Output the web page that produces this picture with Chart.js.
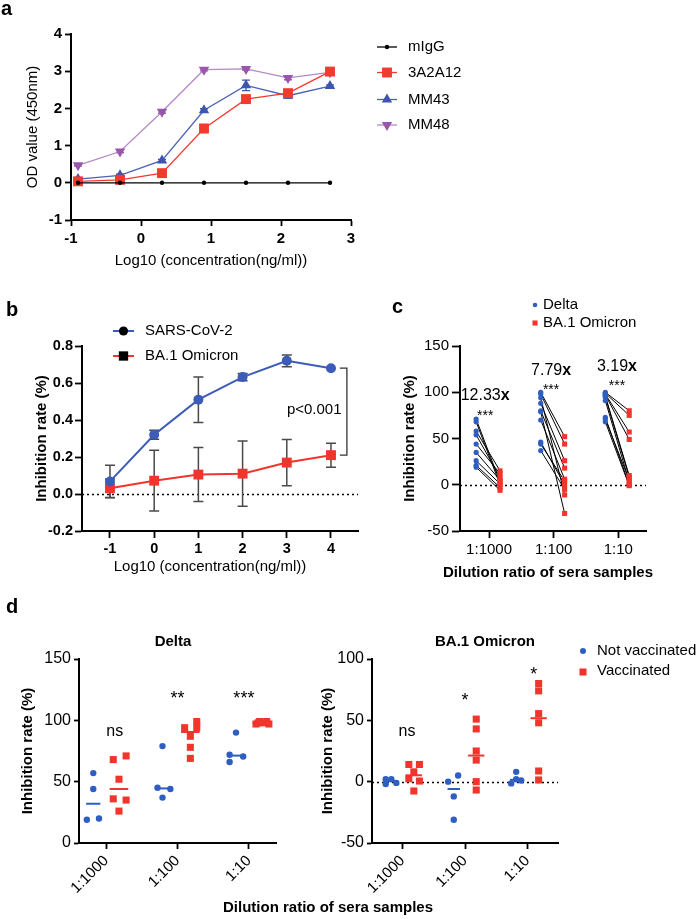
<!DOCTYPE html>
<html>
<head>
<meta charset="utf-8">
<title>Antibody binding and serum inhibition</title>
<script src="https://cdn.jsdelivr.net/npm/chart.js@4.4.1/dist/chart.umd.min.js"></script>
<style>
  html, body { margin: 0; padding: 0; background: #fff; }
  body { position: relative; width: 699px; height: 919px; overflow: hidden; }
  canvas { position: absolute; left: 0; top: 0; }
</style>
</head>
<body>
<canvas id="chartA" width="699" height="919"></canvas>
<canvas id="chartB" width="699" height="919"></canvas>
<canvas id="chartC" width="699" height="919"></canvas>
<canvas id="chartD1" width="699" height="919"></canvas>
<canvas id="chartD2" width="699" height="919"></canvas>
<script>
// ---------- panel a : ELISA binding ----------
const concA = [-0.9, -0.3, 0.3, 0.9, 1.5, 2.1, 2.7];
const seriesA = ['mIgG', '3A2A12', 'MM43', 'MM48'];
const odMIgG = [0, 0, 0, 0, 0, 0, 0];
const od3A2A12 = [0.04, 0.08, 0.26, 1.46, 2.25, 2.41, 2.99];
const od3A2A12Err = [0.02, 0.03, 0.04, 0.11, 0.05, 0.05, 0.09];
const odMM43 = [0.1, 0.2, 0.6, 1.95, 2.62, 2.34, 2.6];
const odMM43Err = [0.02, 0.03, 0.03, 0.04, 0.14, 0.06, 0.03];
const odMM48 = [0.47, 0.84, 1.91, 3.04, 3.06, 2.82, 2.97];
const odMM48Err = [0.02, 0.03, 0.04, 0.03, 0.03, 0.05, 0.04];
const xTicksA = [-1, 0, 1, 2, 3];
const yTicksA = [-1, 0, 1, 2, 3, 4];

// ---------- panel b : pseudovirus inhibition ----------
const concB = [-1, 0, 1, 2, 3, 4];
const seriesB = ['SARS-CoV-2', 'BA.1 Omicron'];
const inhSars = [0.068, 0.32, 0.51, 0.632, 0.72, 0.68];
const inhSarsErr = [0.088, 0.024, 0.123, 0.02, 0.032, 0];
const inhOmi = [0.031, 0.072, 0.105, 0.11, 0.17, 0.21];
const inhOmiErr = [0.05, 0.164, 0.146, 0.176, 0.125, 0.065];
const xTicksB = [-1, 0, 1, 2, 3, 4];
const yTicksB = [-0.2, 0, 0.2, 0.4, 0.6, 0.8];
const pTextB = 'p<0.001';

// ---------- panel c : paired sera ----------
const dilutions = ['1:1000', '1:100', '1:10'];
const seriesC = ['Delta', 'BA.1 Omicron'];
const cDelta = [
  [71, 68, 58, 54, 44, 35, 26, 21, 19],
  [100, 98, 94, 88, 80, 79, 70, 46, 44, 37],
  [100, 99, 98, 97, 96, 95, 91, 73, 71, 68]
];
const cOmicron = [
  [3, 0, 15, 8, 12, 5, 1, -3, -6],
  [52, 44, -11, 26, 18, -31, 6, 0, 4, -5],
  [80, 75, 57, 49, 10, 8, 3, 0, 5, -1]
];
const foldC = ['12.33', '7.79', '3.19'];
const sigC = ['***', '***', '***'];
const yTicksC = [-50, 0, 50, 100, 150];

// ---------- panel d : vaccinated vs not ----------
const seriesD = ['Not vaccinated', 'Vaccinated'];
const deltaNot = [[57, 44, 19, 20], [79, 45, 44, 37], [90, 66, 72, 70.5]];
const deltaVac = [[68, 71, 52, 36, 35, 26], [94, 99, 94, 87, 78, 69], [97, 99, 98, 99, 97, 98]];
const ba1Not = [[2, -2, 2, -1], [0, 5, -12, -31], [-1.4, 8, 2, 1]];
const ba1Vac = [[14, 14, 8, 2.4, 0.5, -7.6], [51, 43, 25, 17.6, 0, -6.8], [80, 74, 55.5, 48, 8.7, 1.4]];
const sigDelta = ['ns', '**', '***'];
const sigBA1 = ['ns', '*', '*'];
const yTicksD1 = [0, 50, 100, 150];
const yTicksD2 = [-50, 0, 50, 100];

// horizontal spread of points inside a group (category units)
const jitDeltaNot = [[0, 0, -0.09, 0.08], [-0.03, -0.1, 0.08, -0.03], [0, -0.09, -0.09, 0.1]];
const jitDeltaVac = [[-0.08, 0.1, 0, -0.08, 0.1, 0], [-0.08, 0.09, 0.09, 0, 0, 0], [-0.08, -0.03, 0.02, 0.07, 0.1, -0.05]];
const jitBa1Not = [[-0.09, -0.09, 0, 0.08], [-0.09, 0.07, 0, 0], [-0.08, 0, 0, 0.08]];
const jitBa1Vac = [[-0.08, 0.09, 0, -0.08, 0.09, 0], [0, 0, 0, 0, 0, 0], [0, 0, 0, 0, 0, 0]];

// ---------- setup ----------
const FONT = "'Liberation Sans', Arial, Helvetica, sans-serif";
Chart.defaults.font.family = FONT;
Chart.defaults.color = '#000';

const RED = '#f2352c';
const BLUE = '#2f5ec2';
const W = 699, H = 919;

const xy = (xs, ys) => xs.map((x, i) => ({ x, y: ys[i] }));

function groupPts(groups, center, jit) {
  const out = [];
  groups.forEach((vals, g) => vals.forEach((v, k) => out.push({ x: g + 1 + center + (jit ? jit[g][k] : 0), y: v })));
  return out;
}

function pairPts(a, b, offA, offB) {
  const out = [];
  a.forEach((vals, g) => vals.forEach((v, k) => {
    out.push({ x: g + 1 + offA, y: v }, { x: g + 1 + offB, y: b[g][k] }, { x: g + 1, y: null });
  }));
  return out;
}

function median(a) {
  const s = [...a].sort((p, q) => p - q), n = s.length;
  return n % 2 ? s[(n - 1) / 2] : (s[n / 2 - 1] + s[n / 2]) / 2;
}

// plot area [left, top, right, bottom] on the page -> layout padding
function pad(area, yW, xH) {
  return { left: area[0] - yW, top: area[1], right: W - area[2], bottom: H - area[3] - xH };
}

function axis(o) {
  return {
    type: 'linear',
    min: o.min, max: o.max,
    afterFit: s => { if (o.horizontal) s.height = o.size; else s.width = o.size; },
    afterBuildTicks: s => { s.ticks = o.ticks.map(v => ({ value: v })); },
    border: { display: true, color: '#000', width: 2 },
    grid: { drawOnChartArea: false, drawTicks: true, tickLength: o.tickLen, tickWidth: 1.8, tickColor: '#000' },
    ticks: {
      autoSkip: false, padding: o.pad, color: '#000',
      font: { size: o.font, weight: o.bold ? 'bold' : 'normal' },
      callback: o.label || (v => String(v)),
      maxRotation: o.rot || 0, minRotation: o.rot || 0
    },
    title: o.title
      ? { display: true, text: o.title, padding: 0, color: '#000', font: { size: 15, weight: o.titleBold ? 'bold' : 'normal' } }
      : { display: false }
  };
}

function baseOptions(padding, scales) {
  return {
    responsive: false, animation: false,
    layout: { padding },
    plugins: { legend: { display: false }, tooltip: { enabled: false } },
    scales
  };
}

function txt(ctx, s, x, y, size, bold, align) {
  ctx.save();
  ctx.font = (bold ? 'bold ' : '') + size + 'px ' + FONT;
  ctx.fillStyle = '#000';
  ctx.textAlign = align || 'center';
  ctx.textBaseline = 'middle';
  ctx.fillText(s, x, y);
  ctx.restore();
}

function stars(ctx, s, x, y, size) {
  ctx.save();
  ctx.font = size + 'px ' + FONT;
  ctx.fillStyle = '#000';
  ctx.textAlign = 'center';
  ctx.textBaseline = 'alphabetic';
  ctx.fillText(s, x, y + 0.58 * size);
  ctx.restore();
}

function panelLabel(ctx, s, x, y) {
  ctx.save();
  ctx.font = 'bold 20px ' + FONT;
  ctx.fillStyle = '#000';
  ctx.textAlign = 'left';
  ctx.textBaseline = 'alphabetic';
  ctx.fillText(s, x, y);
  ctx.restore();
}

function mark(ctx, style, x, y, r, color, rot) {
  ctx.save();
  ctx.fillStyle = color;
  ctx.beginPath();
  if (style === 'circle') {
    ctx.arc(x, y, r, 0, Math.PI * 2);
  } else if (style === 'rect') {
    const h = r * Math.SQRT1_2;
    ctx.rect(x - h, y - h, 2 * h, 2 * h);
  } else {
    const a0 = (rot || 0) * Math.PI / 180;
    for (let k = 0; k < 3; k++) {
      const a = a0 + k * 2 * Math.PI / 3;
      const px = x + Math.sin(a) * r, py = y - Math.cos(a) * r;
      if (k) ctx.lineTo(px, py); else ctx.moveTo(px, py);
    }
    ctx.closePath();
  }
  ctx.fill();
  ctx.restore();
}

const errorBars = {
  id: 'errorBars',
  beforeDatasetsDraw(chart) {
    const ctx = chart.ctx, y = chart.scales.y;
    chart.data.datasets.forEach((ds, i) => {
      if (!ds.errors) return;
      const meta = chart.getDatasetMeta(i);
      ctx.save();
      ctx.strokeStyle = ds.errorColor || ds.borderColor;
      ctx.lineWidth = ds.errorWidth || 1.3;
      meta.data.forEach((pt, j) => {
        const e = ds.errors[j];
        if (!e) return;
        const v = ds.data[j].y, cap = ds.errorCap || 4;
        const top = y.getPixelForValue(v + e), bot = y.getPixelForValue(v - e);
        ctx.beginPath();
        ctx.moveTo(pt.x, top); ctx.lineTo(pt.x, bot);
        ctx.moveTo(pt.x - cap, top); ctx.lineTo(pt.x + cap, top);
        ctx.moveTo(pt.x - cap, bot); ctx.lineTo(pt.x + cap, bot);
        ctx.stroke();
      });
      ctx.restore();
    });
  }
};

const zeroLine = {
  id: 'zeroLine',
  beforeDatasetsDraw(chart) {
    const { ctx, chartArea: a, scales: { y } } = chart;
    const py = Math.round(y.getPixelForValue(0)) + 0.5;
    ctx.save();
    ctx.strokeStyle = '#000';
    ctx.lineWidth = 1.6;
    ctx.setLineDash([2, 3]);
    ctx.beginPath();
    ctx.moveTo(a.left, py);
    ctx.lineTo(a.right, py);
    ctx.stroke();
    ctx.restore();
  }
};

function medians(list) {
  return {
    id: 'medians',
    afterDatasetsDraw(chart) {
      const { ctx, scales: { x, y } } = chart;
      ctx.save();
      ctx.lineWidth = 2;
      list.forEach(s => s.groups.forEach((vals, g) => {
        const m = y.getPixelForValue(median(vals)), c = g + 1 + s.center;
        ctx.strokeStyle = s.color;
        ctx.beginPath();
        ctx.moveTo(x.getPixelForValue(c - s.half), m);
        ctx.lineTo(x.getPixelForValue(c + s.half), m);
        ctx.stroke();
      }));
      ctx.restore();
    }
  };
}

// ---------- chart a ----------
const RED_A = '#f33a2f', BLUE_A = '#3d55ad', PURPLE_A = '#9a55ad', PURPLE_LINE = '#b489c6';
const styleA = [
  { line: '#000', fill: '#000', style: 'circle', r: 2.2, rot: 0 },
  { line: RED_A, fill: RED_A, style: 'rect', r: 7, rot: 0, err: '#f39a94' },
  { line: '#4a62b6', fill: BLUE_A, style: 'triangle', r: 6, rot: 0, err: BLUE_A },
  { line: PURPLE_LINE, fill: PURPLE_A, style: 'triangle', r: 6, rot: 180, err: PURPLE_A }
];
const valuesA = [odMIgG, od3A2A12, odMM43, odMM48];
const errorsA = [null, od3A2A12Err, odMM43Err, odMM48Err];

new Chart(document.getElementById('chartA'), {
  type: 'line',
  data: {
    datasets: valuesA.map((vals, i) => ({
      label: seriesA[i], data: xy(concA, vals), errors: errorsA[i], errorColor: styleA[i].err, errorCap: 4,
      borderColor: styleA[i].line, borderWidth: 1.3, pointBackgroundColor: styleA[i].fill, pointBorderWidth: 0,
      pointStyle: styleA[i].style, pointRotation: styleA[i].rot, pointRadius: styleA[i].r, clip: false
    }))
  },
  options: baseOptions(pad([71, 34, 351, 220], 47, 50), {
    x: axis({ horizontal: true, size: 50, min: -1, max: 3, ticks: xTicksA, tickLen: 6, pad: 4, font: 15, bold: true, title: 'Log10 (concentration(ng/ml))' }),
    y: axis({ size: 47, min: -1, max: 4, ticks: yTicksA, tickLen: 6, pad: 3, font: 15, bold: true, title: 'OD value (450nm)' })
  }),
  plugins: [errorBars, {
    id: 'decorA',
    afterDraw(chart) {
      const ctx = chart.ctx;
      panelLabel(ctx, 'a', 1, 15);
      const rows = [47, 72.5, 99.5, 125];
      seriesA.forEach((name, i) => {
        const s = styleA[i];
        ctx.save();
        ctx.strokeStyle = s.line; ctx.lineWidth = 1.3;
        ctx.beginPath(); ctx.moveTo(377, rows[i]); ctx.lineTo(397, rows[i]); ctx.stroke();
        ctx.restore();
        mark(ctx, s.style, 387, rows[i], s.r, s.fill, s.rot);
        txt(ctx, name, 408, rows[i], 15, false, 'left');
      });
    }
  }]
});

// ---------- chart b ----------
const BLUE_B = '#3c5cb8', RED_B = '#f2352c';
new Chart(document.getElementById('chartB'), {
  type: 'line',
  data: {
    datasets: [
      { label: seriesB[0], data: xy(concB, inhSars), errors: inhSarsErr, errorColor: '#4a4a4a', errorCap: 5, errorWidth: 1.5,
        borderColor: BLUE_B, borderWidth: 2, pointBackgroundColor: BLUE_B, pointBorderWidth: 0, pointStyle: 'circle', pointRadius: 5, clip: false },
      { label: seriesB[1], data: xy(concB, inhOmi), errors: inhOmiErr, errorColor: '#4a4a4a', errorCap: 5, errorWidth: 1.5,
        borderColor: RED_B, borderWidth: 2, pointBackgroundColor: RED_B, pointBorderWidth: 0, pointStyle: 'rect', pointRadius: 7, clip: false }
    ]
  },
  options: baseOptions(pad([82, 346, 358, 531], 49, 30), {
    x: axis({ horizontal: true, size: 30, min: -1.633, max: 4.611, ticks: xTicksB, tickLen: 7, pad: 2, font: 14.5, bold: true }),
    y: axis({ size: 49, min: -0.2, max: 0.8, ticks: yTicksB, tickLen: 7, pad: 2, font: 14.5, bold: true,
      label: v => v.toFixed(1), title: 'Inhibition rate (%)', titleBold: true })
  }),
  plugins: [zeroLine, errorBars, {
    id: 'decorB',
    afterDraw(chart) {
      const { ctx, scales: { x, y } } = chart;
      panelLabel(ctx, 'b', 6, 316);
      txt(ctx, 'Log10 (concentration(ng/ml))', 210, 567, 15, false);
      // significance bracket between the last points
      const x1 = x.getPixelForValue(4.2), x2 = x.getPixelForValue(4.36);
      const yTop = y.getPixelForValue(inhSars[inhSars.length - 1]);
      const yBot = y.getPixelForValue(inhOmi[inhOmi.length - 1]);
      ctx.save();
      ctx.strokeStyle = '#333'; ctx.lineWidth = 1.3;
      ctx.beginPath();
      ctx.moveTo(x1, yTop); ctx.lineTo(x2, yTop); ctx.lineTo(x2, yBot); ctx.lineTo(x1, yBot);
      ctx.stroke();
      ctx.restore();
      txt(ctx, pTextB, x.getPixelForValue(3.62), y.getPixelForValue(0.455), 15, false);
      // legend
      const rows = [331, 356];
      [[BLUE_B, 'circle', 4.6], [RED_B, 'rect', 6.6]].forEach((s, i) => {
        ctx.save();
        ctx.strokeStyle = s[0]; ctx.lineWidth = 2;
        ctx.beginPath(); ctx.moveTo(113, rows[i]); ctx.lineTo(134, rows[i]); ctx.stroke();
        ctx.restore();
        mark(ctx, s[1], 123.5, rows[i], s[2], '#000');
        txt(ctx, seriesB[i], 145, rows[i], 15, false, 'left');
      });
    }
  }]
});

// ---------- chart c ----------
const OFF_DELTA = -0.2, OFF_OMI = 0.17;
new Chart(document.getElementById('chartC'), {
  type: 'scatter',
  data: {
    datasets: [
      { label: seriesC[0], data: groupPts(cDelta, OFF_DELTA), pointStyle: 'circle', pointRadius: 2.6,
        pointBackgroundColor: BLUE, pointBorderWidth: 0, clip: false },
      { label: seriesC[1], data: groupPts(cOmicron, OFF_OMI), pointStyle: 'rect', pointRadius: 3.6,
        pointBackgroundColor: RED, pointBorderWidth: 0, clip: false },
      { label: 'pairs', data: pairPts(cDelta, cOmicron, OFF_DELTA, OFF_OMI), showLine: true, spanGaps: false,
        borderColor: '#000', borderWidth: 1, pointRadius: 0, clip: false }
    ]
  },
  options: baseOptions(pad([460, 346, 646, 531], 59, 51), {
    x: axis({ horizontal: true, size: 51, min: 0.55, max: 3.43, ticks: [1, 2, 3], tickLen: 7, pad: 3, font: 15,
      label: v => dilutions[v - 1] }),
    y: axis({ size: 59, min: -50, max: 150, ticks: yTicksC, tickLen: 8, pad: 3, font: 15,
      title: 'Inhibition rate (%)', titleBold: true })
  }),
  plugins: [zeroLine, {
    id: 'decorC',
    afterDraw(chart) {
      const { ctx, scales: { x, y } } = chart;
      panelLabel(ctx, 'c', 392, 313);
      txt(ctx, 'Dilution ratio of sera samples', 548, 573, 15, true);
      const fx = [0.94, 1.96, 2.98], fy = [96, 123, 127.5], sy = [79, 107, 111];
      foldC.forEach((f, i) => {
        const cx = x.getPixelForValue(fx[i]), cy = y.getPixelForValue(fy[i]);
        ctx.save();
        ctx.textBaseline = 'middle'; ctx.textAlign = 'left'; ctx.fillStyle = '#000';
        ctx.font = '16px ' + FONT; const w1 = ctx.measureText(f).width;
        ctx.font = 'bold 16px ' + FONT; const w2 = ctx.measureText('x').width;
        const x0 = cx - (w1 + w2) / 2;
        ctx.font = '16px ' + FONT; ctx.fillText(f, x0, cy);
        ctx.font = 'bold 16px ' + FONT; ctx.fillText('x', x0 + w1, cy);
        ctx.restore();
        stars(ctx, sigC[i], cx, y.getPixelForValue(sy[i]), 14);
      });
      mark(ctx, 'circle', 535, 305, 2.3, BLUE);
      txt(ctx, seriesC[0], 543, 305, 15, false, 'left');
      mark(ctx, 'rect', 535, 323, 3.6, RED);
      txt(ctx, seriesC[1], 543, 323, 15, false, 'left');
    }
  }]
});

// ---------- chart d ----------
const C_NOT = -0.18, C_VAC = 0.18;
function dChart(id, area, yW, xSpan, yMin, yMax, yTicks, notVals, notJit, vacVals, vacJit, extra) {
  const plugins = [];
  if (yMin < 0) plugins.push(zeroLine);
  plugins.push(medians([
    { groups: notVals, center: C_NOT, half: 0.1, color: BLUE },
    { groups: vacVals, center: C_VAC, half: 0.13, color: RED }
  ]));
  plugins.push(extra);
  return new Chart(document.getElementById(id), {
    type: 'scatter',
    data: {
      datasets: [
        { label: seriesD[0], data: groupPts(notVals, C_NOT, notJit), pointStyle: 'circle', pointRadius: 3.2,
          pointBackgroundColor: BLUE, pointBorderWidth: 0, clip: false },
        { label: seriesD[1], data: groupPts(vacVals, C_VAC, vacJit), pointStyle: 'rect', pointRadius: 5,
          pointBackgroundColor: RED, pointBorderWidth: 0, clip: false }
      ]
    },
    options: baseOptions(pad(area, yW, 60), {
      x: axis({ horizontal: true, size: 60, min: 1 - xSpan, max: 3 + xSpan, ticks: [1, 2, 3], tickLen: 6, pad: 3, font: 15, rot: 45,
        label: v => dilutions[v - 1] }),
      y: axis({ size: yW, min: yMin, max: yMax, ticks: yTicks, tickLen: 5, pad: 3, font: 16,
        title: 'Inhibition rate (%)', titleBold: true })
    }),
    plugins
  });
}

dChart('chartD1', [79, 659, 276, 843], 60.5, 0.38, 0, 150, yTicksD1, deltaNot, jitDeltaNot, deltaVac, jitDeltaVac, {
  id: 'decorD1',
  afterDraw(chart) {
    const { ctx, scales: { x, y } } = chart;
    panelLabel(ctx, 'd', 6, 613);
    txt(ctx, 'Delta', 173, 642, 15, true);
    txt(ctx, 'Dilution ratio of sera samples', 328, 908, 15, true);
    const sx = [1.12, 2.0, 2.93], sy = [91, 122, 122];
    txt(ctx, sigDelta[0], x.getPixelForValue(sx[0]), y.getPixelForValue(sy[0]), 16, false);
    stars(ctx, sigDelta[1], x.getPixelForValue(sx[1]), y.getPixelForValue(sy[1]), 18);
    stars(ctx, sigDelta[2], x.getPixelForValue(sx[2]), y.getPixelForValue(sy[2]), 18);
  }
});

dChart('chartD2', [372, 659, 558, 843], 53.5, 0.49, -50, 100, yTicksD2, ba1Not, jitBa1Not, ba1Vac, jitBa1Vac, {
  id: 'decorD2',
  afterDraw(chart) {
    const { ctx, scales: { x, y } } = chart;
    txt(ctx, 'BA.1 Omicron', 485, 642, 15, true);
    const sx = [1.07, 2.0, 3.1], sy = [40.6, 70.6, 91];
    txt(ctx, sigBA1[0], x.getPixelForValue(sx[0]), y.getPixelForValue(sy[0]), 16, false);
    stars(ctx, sigBA1[1], x.getPixelForValue(sx[1]), y.getPixelForValue(sy[1]), 18);
    stars(ctx, sigBA1[2], x.getPixelForValue(sx[2]), y.getPixelForValue(sy[2]), 18);
    mark(ctx, 'circle', 583, 651, 3, BLUE);
    txt(ctx, seriesD[0], 597, 651, 15, false, 'left');
    mark(ctx, 'rect', 583, 672, 5, RED);
    txt(ctx, seriesD[1], 597, 671, 15, false, 'left');
  }
});
</script>
</body>
</html>
